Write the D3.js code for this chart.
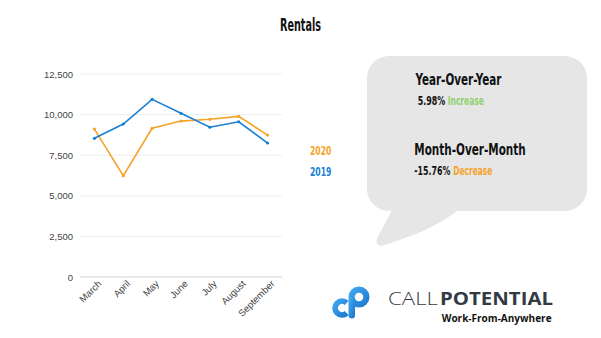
<!DOCTYPE html>
<html><head><meta charset="utf-8">
<script src="https://cdn.jsdelivr.net/npm/d3@7"></script>
<style>body{margin:0;background:#fff}svg{display:block}</style>
</head><body>
<script>
const months = ["March","April","May","June","July","August","September"];
const values2020 = [9110, 6240, 9160, 9600, 9710, 9890, 8740];
const values2019 = [8540, 9420, 10940, 10080, 9220, 9560, 8250];
const yTicks = [0, 2500, 5000, 7500, 10000, 12500];
const seriesNames = ["2020", "2019"];
const colors = {"2020": "#f5a32a", "2019": "#1a7fd4"};

const W = 601, H = 338;
const cond = "'DejaVu Sans Condensed','Liberation Sans Narrow','DejaVu Sans',sans-serif";
const svg = d3.select("body").append("svg").attr("width", W).attr("height", H);

// place a text at (x,y) and squeeze it horizontally to the given width
function fitAt(txt, x, y, len, opts) {
  const t = svg.append("text").attr("x", 0).attr("y", 0)
    .style("font-family", opts.family || cond)
    .style("font-weight", opts.weight || "bold")
    .style("font-size", opts.size + "px")
    .attr("fill", opts.fill || "#111").text(txt);
  const w = t.node().getComputedTextLength();
  const sx = w > 0 ? len / w : 1;
  t.attr("transform", `translate(${x},${y}) scale(${sx},1)`);
  return t;
}

fitAt("Rentals", 280, 31, 41, {size: 17});

const x = d3.scalePoint().domain(months).range([80, 282]).padding(0.5);
const y = d3.scaleLinear().domain([0, 12500]).range([277, 74]);

const g = svg.append("g");
g.selectAll("line.grid").data(yTicks).join("line")
  .attr("x1", 80).attr("x2", 282).attr("y1", d => y(d)).attr("y2", d => y(d))
  .attr("stroke", d => d === 0 ? "#e0e0e0" : "#eeeeee").attr("stroke-width", d => d === 0 ? 1.5 : 1);

const yAxis = d3.axisLeft(y).tickValues(yTicks).tickFormat(d3.format(",")).tickSize(0).tickPadding(7);
const ya = svg.append("g").attr("transform", "translate(80,0)").call(yAxis);
ya.select(".domain").remove();
ya.selectAll("text").style("font-family", "'Liberation Sans',Arial,sans-serif").style("font-size", "9.5px").attr("fill", "#444");

const xAxis = d3.axisBottom(x).tickSize(0).tickPadding(0);
const xa = svg.append("g").attr("transform", "translate(0,282)").call(xAxis);
xa.select(".domain").remove();
xa.selectAll("text").style("font-family", "'Liberation Sans',Arial,sans-serif").style("font-size", "9.5px").attr("fill", "#444")
  .attr("text-anchor", "end").attr("dy", "0.7em").attr("dx", "0.35em")
  .attr("transform", "rotate(-45)");

const line = d3.line().x((d, i) => x(months[i])).y(d => y(d));
const seriesData = {"2020": values2020, "2019": values2019};
["2020", "2019"].forEach(name => {
  const vals = seriesData[name];
  g.append("path").datum(vals).attr("d", line).attr("fill", "none")
    .attr("stroke", colors[name]).attr("stroke-width", 1.6);
  g.selectAll("circle.p" + name).data(vals).join("circle")
    .attr("cx", (d, i) => x(months[i])).attr("cy", d => y(d)).attr("r", 1.6).attr("fill", colors[name]);
});

// legend
seriesNames.forEach((n, i) => {
  fitAt(n, 310, 155 + i * 21, 21.5, {size: 13, fill: colors[n]});
});

// speech bubble
const bubble = svg.append("g");
bubble.append("rect").attr("x", 367).attr("y", 56).attr("width", 220).attr("height", 155).attr("rx", 22)
  .attr("fill", "#e6e6e6");
bubble.append("path").attr("d", "M394,205 L391,212 C386,222 380,232 377,239 C375,245 380,247 385,245 C410,237 440,226 462,207 Z")
  .attr("fill", "#e6e6e6");

fitAt("Year-Over-Year", 415.5, 85, 86, {size: 16});
fitAt("5.98%", 417.7, 105, 27.5, {size: 11.5});
fitAt("Increase", 447.7, 105, 36.3, {size: 11.5, fill: "#8fd16f"});
fitAt("Month-Over-Month", 414.3, 155, 111.5, {size: 16});
fitAt("-15.76%", 414.3, 175, 36, {size: 11.5});
fitAt("Decrease", 453.3, 175, 39, {size: 11.5, fill: "#f5a32a"});

// logo
const defs = svg.append("defs");
const grad = defs.append("linearGradient").attr("id", "lg").attr("x1", "0").attr("y1", "0").attr("x2", "1").attr("y2", "1");
grad.append("stop").attr("offset", "0").attr("stop-color", "#45b0f7");
grad.append("stop").attr("offset", "1").attr("stop-color", "#1a72c9");
const logo = svg.append("g");
const arc = d3.arc();
logo.append("path").attr("transform", "translate(342,308)")
  .attr("d", arc({innerRadius: 4, outerRadius: 9.8, startAngle: 2.4, endAngle: 2 * Math.PI + 0.75}))
  .attr("fill", "url(#lg)");
logo.append("path").attr("transform", "translate(359,297)")
  .attr("d", arc({innerRadius: 4.3, outerRadius: 10.5, startAngle: 0, endAngle: 2 * Math.PI}))
  .attr("fill", "url(#lg)");
logo.append("rect").attr("x", 348.5).attr("y", 297).attr("width", 6.5).attr("height", 21.5).attr("rx", 3.2)
  .attr("fill", "url(#lg)");

const sans = "'Open Sans','Liberation Sans',sans-serif";
fitAt("CALL", 388, 305, 50, {size: 17.5, weight: "300", family: sans, fill: "#333a44"});
fitAt("POTENTIAL", 440, 305, 113, {size: 17.5, weight: "bold", family: sans, fill: "#333a44"});
fitAt("Work-From-Anywhere", 441.7, 322, 110, {size: 10.8, weight: "bold", family: sans, fill: "#111"});
</script>
</body></html>
